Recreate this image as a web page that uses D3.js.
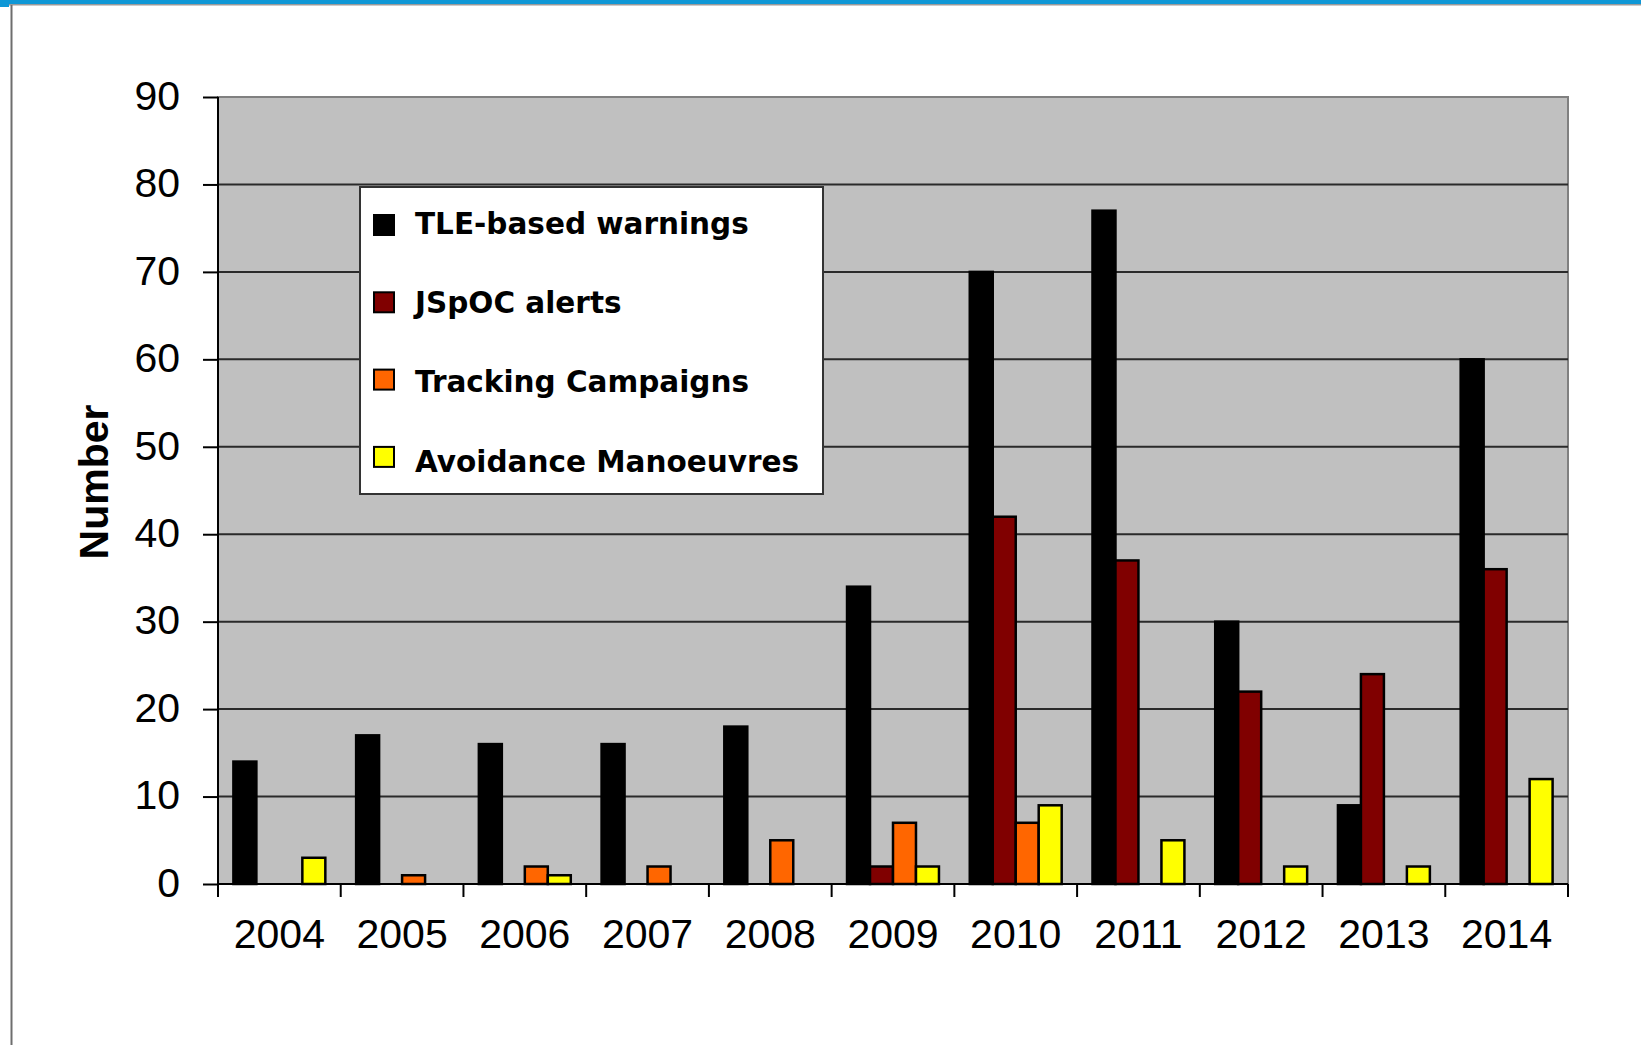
<!DOCTYPE html>
<html>
<head>
<meta charset="utf-8">
<script src="https://cdn.jsdelivr.net/npm/d3@7"></script>
<style>
  html, body { margin: 0; padding: 0; background: #fff; }
  svg { display: block; }
</style>
</head>
<body>
<div id="chart"></div>
<script>
// data
var years = ["2004", "2005", "2006", "2007", "2008", "2009", "2010", "2011", "2012", "2013", "2014"]
var seriesNames = ["TLE-based warnings", "JSpOC alerts", "Tracking Campaigns", "Avoidance Manoeuvres"]
var tleWarnings = [14, 17, 16, 16, 18, 34, 70, 77, 30, 9, 60]
var jspocAlerts = [0, 0, 0, 0, 0, 2, 42, 37, 22, 24, 36]
var trackingCampaigns = [0, 1, 2, 2, 5, 7, 7, 0, 0, 0, 0]
var avoidanceManoeuvres = [3, 0, 1, 0, 0, 2, 9, 5, 2, 2, 12]
var yTicks = [0, 10, 20, 30, 40, 50, 60, 70, 80, 90]

const W = 1641, H = 1045
const plot = { left: 218, right: 1568, top: 97, bottom: 884 }
const colors = ["#000000", "#800000", "#ff6600", "#ffff00"]
const allSeries = [tleWarnings, jspocAlerts, trackingCampaigns, avoidanceManoeuvres]

var svg = d3.select("#chart")
    .append("svg")
    .attr("width", W)
    .attr("height", H)

// page frame: blue strip on top, grey rule at left
svg.append("rect").attr("x", 0).attr("y", 0).attr("width", W).attr("height", 4).attr("fill", "#0e97d6")
svg.append("rect").attr("x", 0).attr("y", 4).attr("width", W).attr("height", 1.5).attr("fill", "#9a9a9a")
svg.append("rect").attr("x", 0).attr("y", 0).attr("width", 9).attr("height", 7).attr("fill", "#0e97d6")
svg.append("line").attr("x1", 11.5).attr("x2", 11.5).attr("y1", 5).attr("y2", H)
    .attr("stroke", "#6e6e6e").attr("stroke-width", 2)

const x = d3.scaleBand()
    .domain(years)
    .range([plot.left, plot.right])

const xs = d3.scaleBand()
    .domain(d3.range(seriesNames.length))
    .range([0, x.bandwidth()])
    .paddingOuter(0.67)

const y = d3.scaleLinear()
    .domain([0, 90])
    .range([plot.bottom, plot.top])

// plot area
svg.append("rect")
    .attr("x", plot.left).attr("y", plot.top)
    .attr("width", plot.right - plot.left).attr("height", plot.bottom - plot.top)
    .attr("fill", "#c0c0c0")
    .attr("stroke", "#808080")
    .attr("stroke-width", 2)

// gridlines
svg.append("g")
    .selectAll("line")
    .data(yTicks.filter(d => d > 0 && d < 90))
    .enter().append("line")
    .attr("x1", plot.left).attr("x2", plot.right)
    .attr("y1", d => y(d)).attr("y2", d => y(d))
    .attr("stroke", "#2a2a2a")
    .attr("stroke-width", 2)

// bars
allSeries.forEach(function (vals, s) {
    svg.append("g")
        .selectAll("rect")
        .data(vals)
        .enter().append("rect")
        .attr("x", (d, i) => x(years[i]) + xs(s))
        .attr("y", d => y(d))
        .attr("width", xs.bandwidth())
        .attr("height", d => y(0) - y(d))
        .attr("fill", colors[s])
        .attr("stroke", "#000")
        .attr("stroke-width", 2.5)
        .style("display", d => d > 0 ? null : "none")
})

// y axis
var yAxis = svg.append("g")
    .attr("transform", `translate(${plot.left},0)`)
    .call(d3.axisLeft(y).tickValues(yTicks).tickSize(15).tickPadding(23))
yAxis.select(".domain").remove()
yAxis.append("line").attr("x1", 0).attr("x2", 0).attr("y1", plot.top).attr("y2", plot.bottom + 13)
    .attr("stroke", "#000").attr("stroke-width", 2)
yAxis.selectAll(".tick line").attr("stroke", "#000").attr("stroke-width", 2)
yAxis.selectAll("text")
    .attr("font-family", "'Liberation Sans', Arial, sans-serif")
    .attr("font-size", 41)
    .attr("fill", "#000")
    .attr("dy", "0.3em")

// x axis
var xAxis = svg.append("g")
    .attr("transform", `translate(0,${plot.bottom})`)
xAxis.append("line").attr("x1", plot.left).attr("x2", plot.right).attr("y1", 0).attr("y2", 0)
    .attr("stroke", "#000").attr("stroke-width", 2)
xAxis.selectAll("line.tk")
    .data(years.concat(["end"]))
    .enter().append("line")
    .attr("class", "tk")
    .attr("x1", (d, i) => plot.left + i * x.step())
    .attr("x2", (d, i) => plot.left + i * x.step())
    .attr("y1", 0).attr("y2", 13)
    .attr("stroke", "#000").attr("stroke-width", 2)
xAxis.selectAll("text")
    .data(years)
    .enter().append("text")
    .attr("x", d => x(d) + x.bandwidth() / 2)
    .attr("y", 64)
    .attr("text-anchor", "middle")
    .attr("font-family", "'Liberation Sans', Arial, sans-serif")
    .attr("font-size", 41)
    .text(d => d)

// y label
svg.append("text")
    .attr("transform", "translate(108,482) rotate(-90)")
    .attr("text-anchor", "middle")
    .attr("font-family", "'Liberation Sans', Arial, sans-serif")
    .attr("font-weight", "bold")
    .attr("font-size", 41)
    .text("Number")

// legend
var legend = svg.append("g")
legend.append("rect")
    .attr("x", 360).attr("y", 187).attr("width", 463).attr("height", 307)
    .attr("fill", "#fff").attr("stroke", "#333").attr("stroke-width", 2)

legend.selectAll("rect.key")
    .data(seriesNames)
    .enter().append("rect")
    .attr("class", "key")
    .attr("x", 374).attr("y", (d, i) => 215 + i * 77.3)
    .attr("width", 20).attr("height", 20)
    .attr("fill", (d, i) => colors[i])
    .attr("stroke", "#000").attr("stroke-width", 2)
legend.selectAll("text")
    .data(seriesNames)
    .enter().append("text")
    .attr("x", 415).attr("y", (d, i) => 233.5 + i * 79.4)
    .attr("font-family", "'DejaVu Sans', Verdana, sans-serif")
    .attr("font-weight", "bold")
    .attr("font-size", 29.5)
    .text(d => d)
</script>
</body>
</html>
